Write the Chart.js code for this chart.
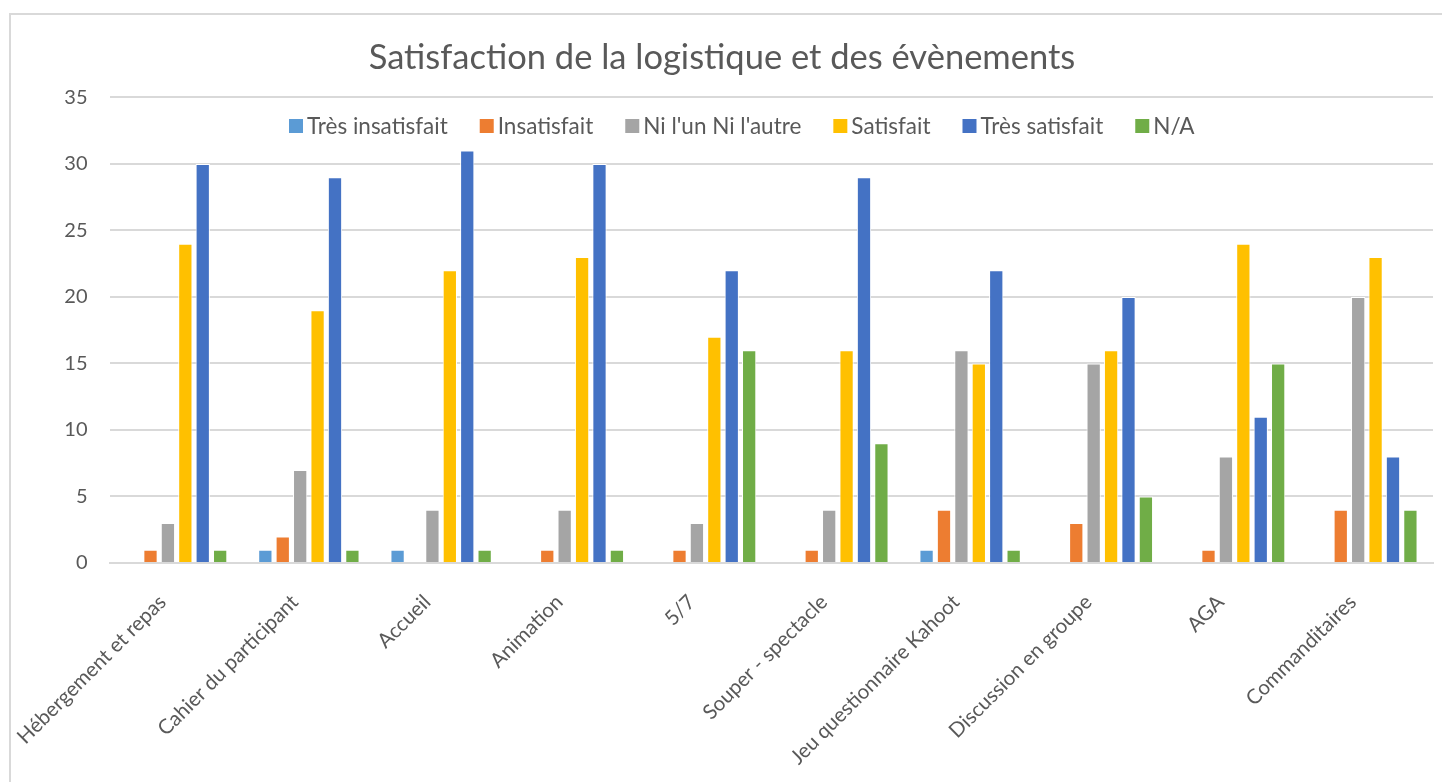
<!DOCTYPE html>
<html>
<head>
<meta charset="utf-8">
<title>Satisfaction de la logistique et des évènements</title>
<script src="https://cdn.jsdelivr.net/npm/chart.js@4.4.1/dist/chart.umd.min.js"></script>
<style>
    body {
        margin: 0;
        background: #ffffff;
        overflow: hidden;
    }
    #frame {
        position: absolute;
        left: 9px;
        top: 13px;
        width: 1438px;
        height: 785px;
        border: 2px solid #d9d9d9;
    }
</style>
</head>
<body>
<div id="frame">
    <canvas id="myChart" width="1438" height="785"></canvas>
</div>
<script>
const categories = [
    'Hébergement et repas',
    'Cahier du participant',
    'Accueil',
    'Animation',
    '5/7',
    'Souper - spectacle',
    'Jeu questionnaire Kahoot',
    'Discussion en groupe',
    'AGA',
    'Commanditaires'
];
// empty cells in the sheet are null (no bar drawn)
const tresInsatisfait = [null, 1, 1, null, null, null, 1, null, null, null];
const insatisfait = [1, 2, null, 1, 1, 1, 4, 3, 1, 4];
const niLunNiLautre = [3, 7, 4, 4, 3, 4, 16, 15, 8, 20];
const satisfait = [24, 19, 22, 23, 17, 16, 15, 16, 24, 23];
const tresSatisfait = [30, 29, 31, 30, 22, 29, 22, 20, 11, 8];
const nonApplicable = [1, 1, 1, 1, 16, 9, 1, 5, 15, 4];
const yTicks = [0, 5, 10, 15, 20, 25, 30, 35];

const seriesNames = ['Très insatisfait', 'Insatisfait', "Ni l'un Ni l'autre", 'Satisfait', 'Très satisfait', 'N/A'];
const seriesData = [tresInsatisfait, insatisfait, niLunNiLautre, satisfait, tresSatisfait, nonApplicable];
const seriesColors = ['#5b9bd5', '#ed7d31', '#a5a5a5', '#ffc000', '#4472c4', '#70ad47'];

const textColor = '#595959';
const gridColor = '#d9d9d9';
Chart.defaults.font.family = 'Lato, Carlito, sans-serif';
Chart.defaults.color = textColor;

const datasets = [];
for (let i = 0; i < seriesNames.length; i++) {
    datasets.push({
        label: seriesNames[i],
        data: seriesData[i],
        backgroundColor: seriesColors[i],
        borderColor: '#ffffff',
        borderWidth: 1,
        categoryPercentage: 0.79,
        barPercentage: 0.82
    });
}

// legend sits inside the plot area, between the 35 and 30 gridlines
const insideLegend = {
    id: 'insideLegend',
    afterDraw(chart) {
        const ctx = chart.ctx;
        ctx.save();
        ctx.font = '22.5px Lato, Carlito, sans-serif';
        ctx.textBaseline = 'middle';
        ctx.textAlign = 'left';
        let x = 278;
        const y = 111;
        for (let i = 0; i < chart.data.datasets.length; i++) {
            const ds = chart.data.datasets[i];
            ctx.fillStyle = ds.backgroundColor;
            ctx.fillRect(x, y - 7, 14, 14);
            ctx.fillStyle = textColor;
            ctx.fillText(ds.label, x + 18, y + 1);
            x += 18 + ctx.measureText(ds.label).width + 32;
        }
        ctx.restore();
    }
};

const ctx = document.getElementById('myChart').getContext('2d');
new Chart(ctx, {
    type: 'bar',
    data: {
        labels: categories,
        datasets: datasets
    },
    options: {
        responsive: false,
        animation: false,
        layout: {
            padding: { left: 0, right: 16, top: 0, bottom: 0 }
        },
        plugins: {
            legend: { display: false },
            tooltip: { enabled: false },
            title: {
                display: true,
                text: 'Satisfaction de la logistique et des évènements',
                color: textColor,
                font: { size: 34.5, weight: 'normal' },
                padding: { top: 22, bottom: 19 }
            }
        },
        scales: {
            x: {
                grid: { display: false },
                border: { display: true, color: gridColor, width: 2 },
                ticks: {
                    autoSkip: false,
                    minRotation: 45,
                    maxRotation: 45,
                    padding: 19,
                    labelOffset: -14,
                    color: textColor,
                    font: { size: 20.5 }
                },
                afterFit(scale) {
                    scale.height = 237;
                }
            },
            y: {
                min: 0,
                max: 35,
                afterBuildTicks(scale) {
                    scale.ticks = yTicks.map(v => ({ value: v }));
                },
                grid: {
                    color: gridColor,
                    lineWidth: 2,
                    drawTicks: false
                },
                border: { display: false },
                ticks: {
                    padding: 23,
                    color: textColor,
                    font: { size: 20 }
                },
                afterFit(scale) {
                    scale.width = 99;
                }
            }
        }
    },
    plugins: [insideLegend]
});
</script>
</body>
</html>
